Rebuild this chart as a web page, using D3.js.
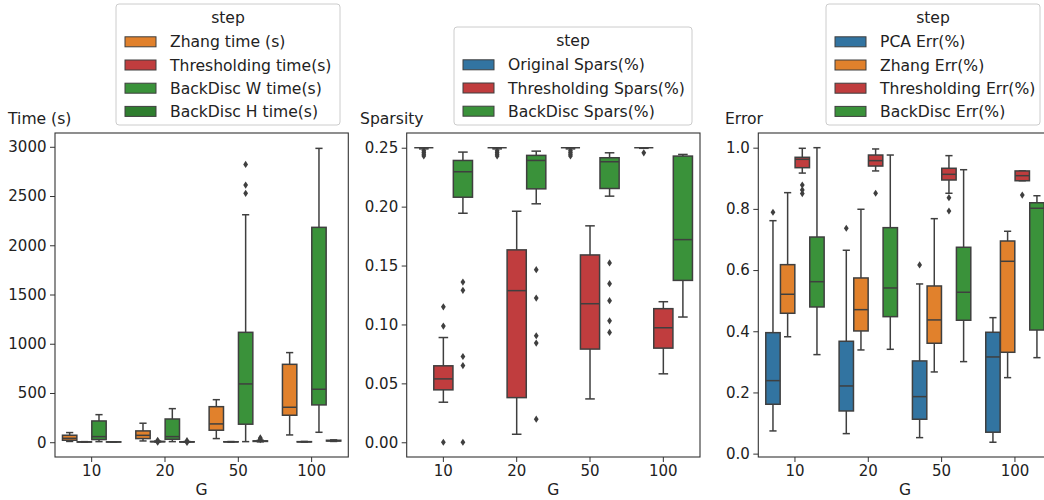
<!DOCTYPE html>
<html>
<head>
<meta charset="utf-8">
<script src="https://cdn.jsdelivr.net/npm/d3@7"></script>
<style>
  body { margin: 0; background: #fff; }
  svg { display: block; font-family: "DejaVu Sans", sans-serif; }
</style>
</head>
<body>
<svg id="chart" width="1044" height="500"></svg>
<script>
// categories on the x axis
var G = ["10", "20", "50", "100"];

// each box: [whisker low, q1, median, q3, whisker high, [outliers]]
// --- time panel
var timeSteps = ["Zhang time (s)", "Thresholding time(s)", "BackDisc W time(s)", "BackDisc H time(s)"];
var zhangTime = [[8, 20, 40, 71, 98, []], [13, 37, 70, 115, 193, []], [37, 122, 186, 361, 432, []], [74, 274, 355, 791, 910, []]];
var threshTime = [[1, 2, 3, 4, 6, []], [3, 5, 6, 8, 12, [20, 0]], [2, 3, 4, 5, 7, []], [2, 3, 4, 6, 8, []]];
var backWTime = [[6, 27, 57, 216, 280, []], [6, 30, 57, 236, 341, []], [6, 183, 592, 1116, 2310, [2821, 2611, 2527]], [101, 379, 538, 2182, 2984, []]];
var backHTime = [[1, 2, 3, 4, 5, []], [1, 2, 3, 5, 7, [16, -2]], [4, 8, 10, 14, 20, [44, 34, 27]], [8, 12, 15, 20, 24, []]];

// --- sparsity panel
var sparsSteps = ["Original Spars(%)", "Thresholding Spars(%)", "BackDisc Spars(%)"];
var origSpars = [[0.249, 0.25, 0.25, 0.25, 0.25, [0.2475, 0.246, 0.2445, 0.243]], [0.249, 0.25, 0.25, 0.25, 0.25, [0.2475, 0.246, 0.2445, 0.243]], [0.249, 0.25, 0.25, 0.25, 0.25, [0.2475, 0.246, 0.2445, 0.243]], [0.2495, 0.25, 0.25, 0.25, 0.25, [0.2457]]];
var threshSpars = [[0.034, 0.0445, 0.0538, 0.0649, 0.0889, [0.115, 0.0986, 0.0]], [0.0068, 0.0379, 0.1287, 0.1633, 0.1961, []], [0.0368, 0.0791, 0.1176, 0.159, 0.1837, []], [0.0581, 0.0799, 0.0972, 0.1134, 0.1193, []]];
var backSpars = [[0.1944, 0.208, 0.2296, 0.2392, 0.2463, [0.136, 0.129, 0.0728, 0.0651, 0.0]], [0.2024, 0.2151, 0.2392, 0.2435, 0.2471, [0.1465, 0.1224, 0.0904, 0.0842, 0.0196]], [0.2089, 0.2154, 0.2381, 0.2415, 0.2457, [0.1522, 0.1346, 0.1202, 0.1031, 0.0932]], [0.1063, 0.1374, 0.172, 0.2429, 0.2443, []]];

// --- error panel
var errSteps = ["PCA Err(%)", "Zhang Err(%)", "Thresholding Err(%)", "BackDisc Err(%)"];
var pcaErr = [[0.0742, 0.1614, 0.2386, 0.3954, 0.7614, [0.789]], [0.0654, 0.1395, 0.2212, 0.3673, 0.6647, [0.7366]], [0.0523, 0.1124, 0.1863, 0.303, 0.5546, [0.6167]], [0.0373, 0.07, 0.316, 0.3967, 0.4445, []]];
var zhangErr = [[0.382, 0.4588, 0.5209, 0.6177, 0.853, []], [0.3389, 0.401, 0.4706, 0.5742, 0.7987, []], [0.267, 0.3608, 0.437, 0.548, 0.768, []], [0.2484, 0.3313, 0.6287, 0.695, 0.7268, []]];
var threshErr = [[0.917, 0.9346, 0.962, 0.9686, 0.998, [0.878, 0.862, 0.85]], [0.924, 0.94, 0.9576, 0.976, 0.9958, [0.851]], [0.851, 0.8944, 0.913, 0.9327, 0.974, [0.8366, 0.793]], [0.892, 0.892, 0.9085, 0.924, 0.924, [0.845]]];
var backErr = [[0.3236, 0.4794, 0.562, 0.708, 1.0, []], [0.341, 0.4477, 0.5415, 0.7386, 0.976, []], [0.3007, 0.436, 0.5274, 0.6745, 0.928, []], [0.3137, 0.404, 0.802, 0.820, 0.843, []]];

var blue = "#3274a1", orange = "#e1812c", red = "#c03d3e", green = "#3a923a", dkgreen = "#2f7e2f";
var gray = "#3f3f3f";

var panels = [
  { left: 55, label: "Time (s)", labelX: 8, domain: [-150, 3140], ticks: d3.range(0, 3001, 500), fmt: d3.format("d"),
    steps: timeSteps, series: [zhangTime, threshTime, backWTime, backHTime], colors: [orange, red, green, dkgreen],
    legend: { x: 116, y: 4, w: 224 } },
  { left: 406.7, label: "Sparsity", labelX: 360, domain: [-0.0125, 0.2625], ticks: d3.range(0, 0.2501, 0.05), fmt: d3.format(".2f"),
    steps: sparsSteps, series: [origSpars, threshSpars, backSpars], colors: [blue, red, green],
    legend: { x: 454, y: 27, w: 238 } },
  { left: 758.3, label: "Error", labelX: 725, domain: [-0.011, 1.048], ticks: d3.range(0, 1.001, 0.2), fmt: d3.format(".1f"),
    steps: errSteps, series: [pcaErr, zhangErr, threshErr, backErr], colors: [blue, orange, red, green],
    legend: { x: 826, y: 4, w: 214 } }
];

var plotTop = 133, plotBottom = 457, pw = 293.3;
var svg = d3.select("#chart");

panels.forEach(function(p){
  var x = d3.scaleBand().domain(G).range([p.left, p.left + pw]);
  var y = d3.scaleLinear().domain(p.domain).range([plotBottom, plotTop]);
  var n = p.steps.length;
  var slot = x.bandwidth() * 0.8 / n;
  var bw = slot * 0.98;
  var g = svg.append("g");

  // axes
  var ya = g.append("g").attr("transform", "translate(" + p.left + ",0)")
    .call(d3.axisLeft(y).tickValues(p.ticks).tickFormat(p.fmt).tickSize(5).tickPadding(3.5));
  var xa = g.append("g").attr("transform", "translate(0," + plotBottom + ")")
    .call(d3.axisBottom(x).tickSize(5).tickPadding(3.5));
  [ya, xa].forEach(function(a){
    a.select(".domain").remove();
    a.selectAll("text").attr("font-size", "15px").attr("fill", "#222").attr("font-family", "DejaVu Sans");
    a.selectAll("line").attr("stroke", "#333");
  });

  // boxes
  p.series.forEach(function(ser, h){
    ser.forEach(function(d, i){
      var cx = x(G[i]) + x.bandwidth() / 2 + (h - (n - 1) / 2) * slot;
      var bg = g.append("g");
      // whiskers
      bg.append("line").attr("x1", cx).attr("x2", cx).attr("y1", y(d[0])).attr("y2", y(d[1]))
        .attr("stroke", gray).attr("stroke-width", 1.5);
      bg.append("line").attr("x1", cx).attr("x2", cx).attr("y1", y(d[3])).attr("y2", y(d[4]))
        .attr("stroke", gray).attr("stroke-width", 1.5);
      [d[0], d[4]].forEach(function(v){
        bg.append("line").attr("x1", cx - bw / 4).attr("x2", cx + bw / 4).attr("y1", y(v)).attr("y2", y(v))
          .attr("stroke", gray).attr("stroke-width", 1.5);
      });
      bg.append("rect").attr("x", cx - bw / 2).attr("width", bw)
        .attr("y", y(d[3])).attr("height", Math.max(0, y(d[1]) - y(d[3])))
        .attr("fill", p.colors[h]).attr("stroke", gray).attr("stroke-width", 1.5);
      bg.append("line").attr("x1", cx - bw / 2).attr("x2", cx + bw / 2).attr("y1", y(d[2])).attr("y2", y(d[2]))
        .attr("stroke", gray).attr("stroke-width", 1.5);
      bg.selectAll("path.out").data(d[5]).enter().append("path")
        .attr("d", function(v){ var yy = y(v); return "M" + cx + "," + (yy - 3.6) + "L" + (cx + 2.4) + "," + yy + "L" + cx + "," + (yy + 3.6) + "L" + (cx - 2.4) + "," + yy + "Z"; })
        .attr("fill", gray);
    });
  });

  // frame
  g.append("rect").attr("x", p.left).attr("y", plotTop).attr("width", pw).attr("height", plotBottom - plotTop)
    .attr("fill", "none").attr("stroke", "#333").attr("stroke-width", 1.1);

  // labels
  g.append("text").attr("x", p.labelX).attr("y", 124).attr("font-size", "15.6px").attr("fill", "#222").text(p.label);
  g.append("text").attr("x", p.left + pw / 2).attr("y", 495).attr("text-anchor", "middle")
    .attr("font-size", "15.6px").attr("fill", "#222").text("G");

  // legend
  var L = p.legend;
  var lh = 23.2;
  var lg = svg.append("g").attr("transform", "translate(" + L.x + "," + L.y + ")");
  var hgt = 125 - L.y;
  lg.append("rect").attr("width", L.w).attr("height", hgt).attr("rx", 3)
    .attr("fill", "#fff").attr("fill-opacity", 0.8).attr("stroke", "#cccccc");
  lg.append("text").attr("x", L.w / 2).attr("y", 19).attr("text-anchor", "middle")
    .attr("font-size", "15.6px").attr("fill", "#222").text("step");
  p.steps.forEach(function(s, k){
    var cy = 37.8 + k * lh;
    lg.append("rect").attr("x", 9).attr("y", cy - 5).attr("width", 31).attr("height", 10)
      .attr("fill", p.colors[k]).attr("stroke", gray).attr("stroke-width", 1);
    lg.append("text").attr("x", 54).attr("y", cy + 5.5).attr("font-size", "15.6px").attr("fill", "#222").text(s);
  });
});
</script>
</body>
</html>
